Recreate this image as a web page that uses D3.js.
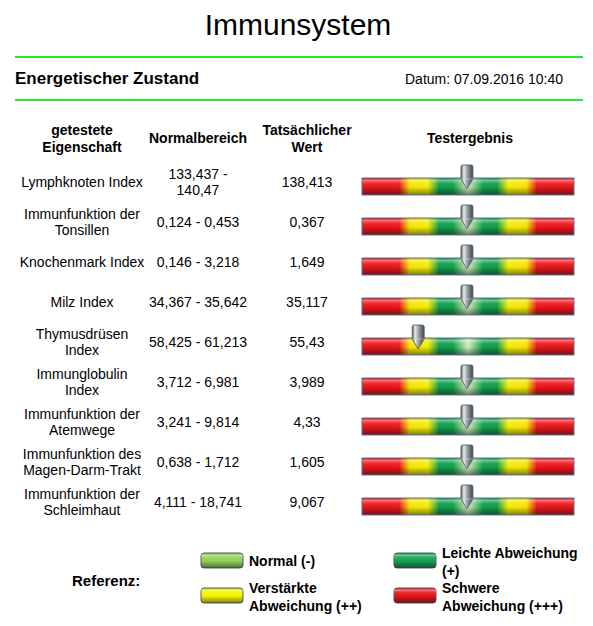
<!DOCTYPE html>
<html>
<head>
<meta charset="utf-8">
<script src="https://cdn.jsdelivr.net/npm/d3@7"></script>
<style>
  body { margin: 0; background: #fff; }
  text { font-family: "Liberation Sans", Arial, sans-serif; fill: #000; }
</style>
</head>
<body>
<div id="chart"></div>
<script>
// data
const title = "Immunsystem";
const subtitle = "Energetischer Zustand";
const dateLabel = "Datum: 07.09.2016 10:40";
const headers = [["getestete", "Eigenschaft"], ["Normalbereich"], ["Tatsächlicher", "Wert"], ["Testergebnis"]];

const properties = [
  "Lymphknoten Index",
  "Immunfunktion der\nTonsillen",
  "Knochenmark Index",
  "Milz Index",
  "Thymusdrüsen\nIndex",
  "Immunglobulin\nIndex",
  "Immunfunktion der\nAtemwege",
  "Immunfunktion des\nMagen-Darm-Trakt",
  "Immunfunktion der\nSchleimhaut"
];
const rangeLow = [133.437, 0.124, 0.146, 34.367, 58.425, 3.712, 3.241, 0.638, 4.111];
const rangeHigh = [140.47, 0.453, 3.218, 35.642, 61.213, 6.981, 9.814, 1.712, 18.741];
const actual = [138.413, 0.367, 1.649, 35.117, 55.43, 3.989, 4.33, 1.605, 9.067];
// deviation level shown by the pointer: 0 normal, ±1 leicht, ±2 verstärkt, ±3 schwer
const level = [0, 0, 0, 0, -2, 0, 0, 0, 0];

const legendLabels = [["Normal (-)"], ["Leichte Abweichung", "(+)"], ["Verstärkte", "Abweichung (++)"], ["Schwere", "Abweichung (+++)"]];
const legendColors = ["#8fd155", "#12a152", "#f2f200", "#e8141a"];

const width = 593, height = 626;
const svg = d3.select("#chart").append("svg").attr("width", width).attr("height", height);
const defs = svg.append("defs");

const fmt = v => String(v).replace(".", ",");

// header
svg.append("text").attr("x", 298).attr("y", 35).attr("text-anchor", "middle")
  .style("font-size", "30px").text(title);
svg.selectAll("line.sep").data([57, 100]).enter().append("line")
  .attr("x1", 15).attr("x2", 583).attr("y1", d => d).attr("y2", d => d)
  .attr("stroke", "#22ee22").attr("stroke-width", 2);
svg.append("text").attr("x", 15).attr("y", 84).style("font-size", "17px")
  .style("font-weight", "bold").text(subtitle);
svg.append("text").attr("x", 563).attr("y", 84).attr("text-anchor", "end")
  .style("font-size", "14px").text(dateLabel);

// columns
const colX = [82, 198, 307, 470];
headers.forEach((lines, i) => {
  const t = svg.append("text").attr("text-anchor", "middle")
    .style("font-size", "14px").style("font-weight", "bold");
  const y0 = 143 - (lines.length - 1) * 8.5;
  lines.forEach((l, j) => t.append("tspan").attr("x", colX[i]).attr("y", y0 + j * 17).text(l));
});

const rowY = d3.scalePoint().domain(d3.range(properties.length)).range([182, 502]);

// gauge scale: level -> x position on the bar
const barX0 = 362, barX1 = 574;
const gx = d3.scaleLinear().domain([-3, -2, 0, 2, 3])
  .range([0.09, 0.265, 0.495, 0.735, 0.91].map(f => barX0 + f * (barX1 - barX0)));

function multiLine(g, lines, x, cy) {
  const t = g.append("text").attr("text-anchor", "middle").style("font-size", "14px");
  const y0 = cy + 5 - (lines.length - 1) * 8;
  lines.forEach((l, j) => t.append("tspan").attr("x", x).attr("y", y0 + j * 16).text(l));
  return t;
}

// gradients
const hg = defs.append("linearGradient").attr("id", "barColors").attr("x1", 0).attr("x2", 1).attr("y1", 0).attr("y2", 0);
[[0, "#e8141a"], [0.175, "#e8141a"], [0.225, "#f4e400"], [0.31, "#f2ec00"], [0.365, "#0a9a48"],
 [0.43, "#109e4a"], [0.5, "#d2eeb8"], [0.57, "#109e4a"], [0.635, "#0a9a48"],
 [0.69, "#f2ec00"], [0.775, "#f4e400"], [0.825, "#e8141a"], [1, "#e8141a"]]
  .forEach(([o, c]) => hg.append("stop").attr("offset", o).attr("stop-color", c));

const vg = defs.append("linearGradient").attr("id", "bevel").attr("x1", 0).attr("x2", 0).attr("y1", 0).attr("y2", 1);
[[0, "#000", 0.05], [0.12, "#fff", 0.45], [0.3, "#fff", 0.12], [0.5, "#fff", 0], [0.62, "#000", 0.1], [1, "#000", 0.45]]
  .forEach(([o, c, a]) => vg.append("stop").attr("offset", o).attr("stop-color", c).attr("stop-opacity", a));

const pg = defs.append("linearGradient").attr("id", "pin").attr("x1", 0).attr("x2", 1).attr("y1", 0).attr("y2", 0);
[[0, "#5a6068"], [0.25, "#e8ecef"], [0.5, "#a0a6ac"], [0.8, "#62686f"], [1, "#454b52"]]
  .forEach(([o, c]) => pg.append("stop").attr("offset", o).attr("stop-color", c));

// rows
const rows = svg.selectAll("g.row").data(properties).enter().append("g").attr("class", "row");
rows.each(function (p, i) {
  const g = d3.select(this);
  const cy = rowY(i);
  multiLine(g, p.split("\n"), colX[0], cy);
  const rangeText = fmt(rangeLow[i]) + " - " + fmt(rangeHigh[i]);
  const tmp = multiLine(g, [rangeText], colX[1], cy);
  if (tmp.node().getComputedTextLength() > 102) {
    tmp.remove();
    multiLine(g, [fmt(rangeLow[i]) + " -", fmt(rangeHigh[i])], colX[1], cy);
  }
  multiLine(g, [fmt(actual[i])], colX[2], cy);

  const top = cy - 4, h = 17;
  g.append("rect").attr("x", barX0).attr("y", top).attr("width", barX1 - barX0).attr("height", h)
    .attr("fill", "url(#barColors)");
  g.append("rect").attr("x", barX0).attr("y", top).attr("width", barX1 - barX0).attr("height", h)
    .attr("fill", "url(#bevel)").attr("stroke", "#5d7696").attr("stroke-width", 1);

  const c = gx(level[i]), pt = top - 13;
  g.append("path")
    .attr("d", `M${c - 6},${pt + 2} Q${c - 6},${pt} ${c - 4},${pt} L${c + 4},${pt} Q${c + 6},${pt} ${c + 6},${pt + 2}
      L${c + 6},${pt + 14} L${c},${pt + 24} L${c - 6},${pt + 14} Z`)
    .attr("fill", "url(#pin)").attr("stroke", "#4f565e").attr("stroke-width", 0.8);
  g.append("line").attr("x1", c - 6).attr("x2", c + 6).attr("y1", pt + 14).attr("y2", pt + 14)
    .attr("stroke", "#cfd4d8").attr("stroke-width", 0.6);
});

// legend
svg.append("text").attr("x", 72).attr("y", 586).style("font-size", "15px")
  .style("font-weight", "bold").text("Referenz:");
const legPos = [[201, 553], [394, 553], [201, 588], [394, 588]];
legendLabels.forEach((lines, i) => {
  const [x, y] = legPos[i];
  svg.append("rect").attr("x", x).attr("y", y).attr("width", 42).attr("height", 15).attr("rx", 3)
    .attr("fill", legendColors[i]).attr("stroke", "#55606a").attr("stroke-width", 1);
  svg.append("rect").attr("x", x).attr("y", y).attr("width", 42).attr("height", 15).attr("rx", 3)
    .attr("fill", "url(#bevel)");
  const t = svg.append("text").style("font-size", "14px").style("font-weight", "bold");
  const y0 = lines.length === 1 ? y + 13 : y + 5;
  lines.forEach((l, j) => t.append("tspan").attr("x", x + 48).attr("y", y0 + j * 18).text(l));
});
</script>
</body>
</html>
